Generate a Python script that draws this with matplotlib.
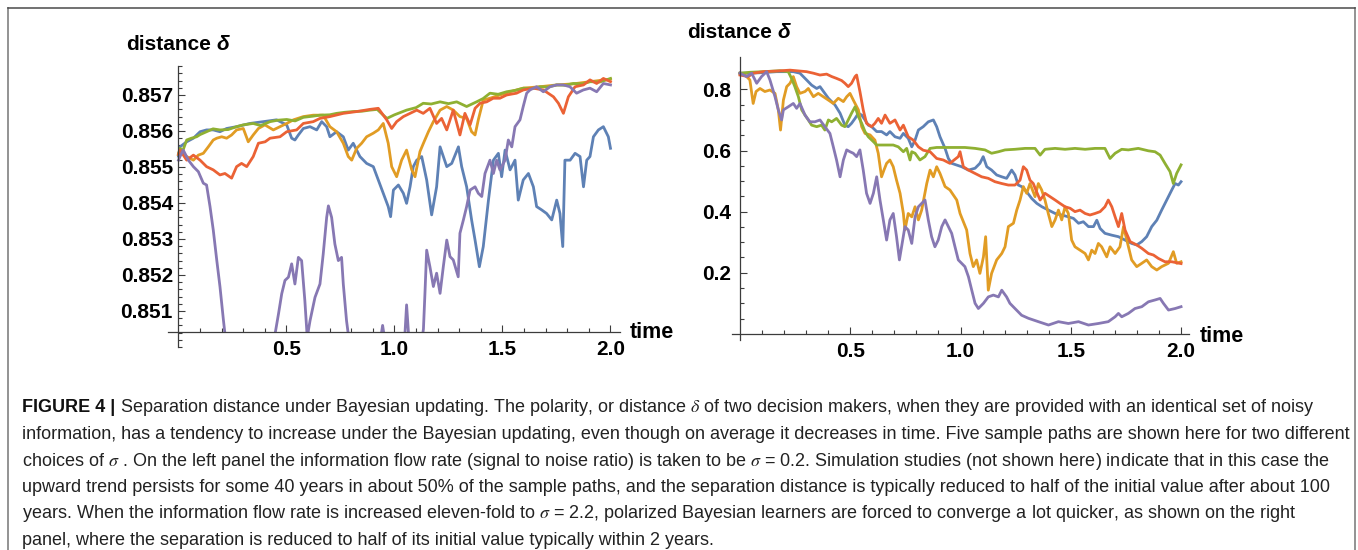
import matplotlib
matplotlib.use("Agg")
import matplotlib.pyplot as plt
import numpy as np
from matplotlib.lines import Line2D
from matplotlib.patches import Rectangle

plt.rcParams["font.family"] = ["Liberation Sans", "DejaVu Sans"]
plt.rcParams["mathtext.fontset"] = "stix"

W, H = 1358, 550

# Mathematica default plot colours, in drawing order
COLORS = ["#5E81B5", "#E19C24", "#8FB032", "#EB6235", "#8778B3"]

# ---- left panel, sigma = 0.2: (time, distance) ----
LEFT_BLUE = [
    (0.000, 0.85530), (0.007, 0.85556), (0.038, 0.85570), (0.069, 0.85580), (0.100, 0.85598),
    (0.130, 0.85603), (0.161, 0.85603), (0.192, 0.85598), (0.223, 0.85607), (0.269, 0.85612),
    (0.331, 0.85621), (0.393, 0.85626), (0.454, 0.85631), (0.501, 0.85617), (0.524, 0.85580),
    (0.539, 0.85575), (0.555, 0.85589), (0.578, 0.85607), (0.609, 0.85612), (0.640, 0.85603),
    (0.663, 0.85626), (0.686, 0.85612), (0.701, 0.85584), (0.732, 0.85598), (0.763, 0.85584),
    (0.786, 0.85547), (0.809, 0.85566), (0.840, 0.85529), (0.871, 0.85510), (0.902, 0.85501),
    (0.925, 0.85464), (0.948, 0.85427), (0.971, 0.85390), (0.982, 0.85362), (0.995, 0.85436),
    (1.018, 0.85450), (1.041, 0.85427), (1.056, 0.85399), (1.072, 0.85445), (1.087, 0.85501),
    (1.103, 0.85519), (1.126, 0.85529), (1.149, 0.85464), (1.172, 0.85367), (1.195, 0.85445),
    (1.211, 0.85556), (1.242, 0.85501), (1.265, 0.85510), (1.296, 0.85556), (1.311, 0.85501),
    (1.334, 0.85445), (1.357, 0.85353), (1.373, 0.85297), (1.393, 0.85223), (1.411, 0.85279),
    (1.435, 0.85408), (1.458, 0.85519), (1.481, 0.85538), (1.496, 0.85473), (1.512, 0.85547),
    (1.535, 0.85492), (1.558, 0.85519), (1.573, 0.85408), (1.596, 0.85464), (1.620, 0.85482),
    (1.643, 0.85445), (1.658, 0.85390), (1.681, 0.85381), (1.704, 0.85371), (1.728, 0.85353),
    (1.751, 0.85408), (1.766, 0.85371), (1.779, 0.85279), (1.789, 0.85519), (1.813, 0.85519),
    (1.836, 0.85538), (1.859, 0.85529), (1.875, 0.85445), (1.890, 0.85519), (1.905, 0.85529),
    (1.921, 0.85584), (1.944, 0.85603), (1.967, 0.85612), (1.990, 0.85584), (2.000, 0.85552),
]
LEFT_ORANGE = [
    (0.000, 0.85535), (0.007, 0.85547), (0.038, 0.85529), (0.069, 0.85519), (0.092, 0.85533),
    (0.115, 0.85538), (0.138, 0.85556), (0.161, 0.85575), (0.177, 0.85580), (0.200, 0.85584),
    (0.223, 0.85580), (0.246, 0.85589), (0.269, 0.85603), (0.300, 0.85607), (0.323, 0.85570),
    (0.346, 0.85589), (0.370, 0.85607), (0.400, 0.85617), (0.439, 0.85603), (0.470, 0.85612),
    (0.501, 0.85621), (0.532, 0.85631), (0.578, 0.85640), (0.624, 0.85644), (0.670, 0.85644),
    (0.701, 0.85612), (0.732, 0.85598), (0.763, 0.85566), (0.786, 0.85529), (0.802, 0.85519),
    (0.825, 0.85552), (0.848, 0.85566), (0.871, 0.85584), (0.902, 0.85594), (0.925, 0.85603),
    (0.948, 0.85621), (0.971, 0.85566), (0.987, 0.85501), (1.010, 0.85473), (1.033, 0.85519),
    (1.056, 0.85547), (1.080, 0.85492), (1.095, 0.85473), (1.118, 0.85543), (1.134, 0.85566),
    (1.157, 0.85598), (1.180, 0.85626), (1.211, 0.85658), (1.242, 0.85668), (1.272, 0.85658),
    (1.303, 0.85640), (1.334, 0.85635), (1.357, 0.85598), (1.373, 0.85589), (1.388, 0.85631),
    (1.411, 0.85686), (1.442, 0.85691), (1.488, 0.85700), (1.535, 0.85709), (1.596, 0.85719),
    (1.674, 0.85723), (1.751, 0.85728), (1.828, 0.85731), (1.905, 0.85737), (2.000, 0.85744),
]
LEFT_GREEN = [
    (0.000, 0.85535), (0.007, 0.85552), (0.020, 0.85545), (0.038, 0.85575), (0.060, 0.85580),
    (0.084, 0.85584), (0.100, 0.85590), (0.130, 0.85598), (0.160, 0.85606), (0.192, 0.85603),
    (0.230, 0.85604), (0.269, 0.85612), (0.300, 0.85617), (0.346, 0.85621), (0.380, 0.85615),
    (0.424, 0.85626), (0.460, 0.85630), (0.501, 0.85632), (0.540, 0.85628), (0.578, 0.85638),
    (0.620, 0.85641), (0.655, 0.85644), (0.700, 0.85645), (0.732, 0.85649), (0.770, 0.85652),
    (0.809, 0.85654), (0.850, 0.85655), (0.887, 0.85658), (0.920, 0.85660), (0.948, 0.85644),
    (0.965, 0.85635), (1.000, 0.85645), (1.056, 0.85658), (1.100, 0.85665), (1.133, 0.85677),
    (1.170, 0.85675), (1.211, 0.85681), (1.250, 0.85676), (1.288, 0.85681), (1.334, 0.85668),
    (1.380, 0.85681), (1.410, 0.85690), (1.442, 0.85705), (1.480, 0.85702), (1.519, 0.85709),
    (1.560, 0.85713), (1.597, 0.85719), (1.640, 0.85718), (1.674, 0.85723), (1.710, 0.85722),
    (1.751, 0.85728), (1.790, 0.85727), (1.828, 0.85732), (1.870, 0.85731), (1.905, 0.85737),
    (1.950, 0.85736), (2.000, 0.85746),
]
LEFT_RED = [
    (0.000, 0.85535), (0.007, 0.85547), (0.038, 0.85519), (0.069, 0.85533), (0.100, 0.85519),
    (0.130, 0.85501), (0.161, 0.85492), (0.192, 0.85478), (0.215, 0.85482), (0.246, 0.85469),
    (0.269, 0.85501), (0.292, 0.85510), (0.316, 0.85501), (0.346, 0.85529), (0.370, 0.85566),
    (0.401, 0.85570), (0.424, 0.85580), (0.470, 0.85584), (0.501, 0.85598), (0.547, 0.85603),
    (0.578, 0.85621), (0.624, 0.85626), (0.655, 0.85635), (0.701, 0.85640), (0.763, 0.85649),
    (0.825, 0.85654), (0.886, 0.85660), (0.925, 0.85663), (0.964, 0.85631), (0.987, 0.85607),
    (1.010, 0.85626), (1.041, 0.85640), (1.072, 0.85649), (1.103, 0.85658), (1.133, 0.85649),
    (1.164, 0.85663), (1.195, 0.85621), (1.218, 0.85635), (1.242, 0.85603), (1.272, 0.85658),
    (1.303, 0.85589), (1.326, 0.85649), (1.350, 0.85617), (1.373, 0.85663), (1.396, 0.85677),
    (1.427, 0.85681), (1.457, 0.85691), (1.488, 0.85691), (1.519, 0.85700), (1.565, 0.85705),
    (1.596, 0.85714), (1.642, 0.85719), (1.689, 0.85714), (1.736, 0.85695), (1.759, 0.85677),
    (1.782, 0.85649), (1.805, 0.85695), (1.836, 0.85723), (1.875, 0.85728), (1.905, 0.85742),
    (1.936, 0.85732), (1.967, 0.85746), (2.000, 0.85737),
]
LEFT_PURPLE = [
    (0.000, 0.85519), (0.007, 0.85529), (0.022, 0.85547), (0.046, 0.85519), (0.069, 0.85501),
    (0.092, 0.85487), (0.115, 0.85455), (0.130, 0.85450), (0.146, 0.85390), (0.161, 0.85325),
    (0.177, 0.85242), (0.192, 0.85168), (0.208, 0.85075), (0.220, 0.85010), (0.300, 0.84900),
    (0.380, 0.84920), (0.439, 0.85010), (0.447, 0.85036), (0.463, 0.85092), (0.478, 0.85148),
    (0.493, 0.85185), (0.509, 0.85194), (0.524, 0.85231), (0.539, 0.85175), (0.555, 0.85249),
    (0.570, 0.85240), (0.585, 0.85129), (0.596, 0.85027), (0.609, 0.85073), (0.632, 0.85138),
    (0.655, 0.85175), (0.670, 0.85258), (0.686, 0.85360), (0.694, 0.85392), (0.709, 0.85360),
    (0.724, 0.85286), (0.740, 0.85240), (0.755, 0.85249), (0.763, 0.85175), (0.778, 0.85073),
    (0.794, 0.84999), (0.870, 0.84960), (0.930, 0.85000), (0.945, 0.85060), (0.960, 0.85000),
    (1.045, 0.85000), (1.056, 0.85117), (1.068, 0.85010), (1.120, 0.84990), (1.134, 0.85050),
    (1.141, 0.85149), (1.149, 0.85269), (1.164, 0.85223), (1.180, 0.85168), (1.195, 0.85205),
    (1.211, 0.85149), (1.226, 0.85223), (1.242, 0.85297), (1.257, 0.85251), (1.272, 0.85242),
    (1.295, 0.85195), (1.303, 0.85316), (1.319, 0.85353), (1.334, 0.85390), (1.350, 0.85436),
    (1.373, 0.85445), (1.388, 0.85427), (1.404, 0.85418), (1.419, 0.85482), (1.442, 0.85519),
    (1.458, 0.85482), (1.473, 0.85519), (1.488, 0.85492), (1.512, 0.85519), (1.527, 0.85575),
    (1.543, 0.85556), (1.558, 0.85612), (1.581, 0.85631), (1.596, 0.85668), (1.612, 0.85705),
    (1.627, 0.85714), (1.658, 0.85723), (1.689, 0.85709), (1.720, 0.85723), (1.751, 0.85728),
    (1.782, 0.85728), (1.812, 0.85723), (1.843, 0.85705), (1.874, 0.85714), (1.905, 0.85719),
    (1.936, 0.85709), (1.967, 0.85732), (2.000, 0.85728),
]

# ---- right panel, sigma = 2.2 ----
RIGHT_BLUE = [
    (0.000, 0.853), (0.045, 0.853), (0.106, 0.855), (0.166, 0.858), (0.242, 0.858), (0.272, 0.853),
    (0.302, 0.831), (0.325, 0.814), (0.348, 0.803), (0.363, 0.809), (0.385, 0.787), (0.401, 0.771),
    (0.416, 0.760), (0.431, 0.749), (0.454, 0.722), (0.476, 0.683), (0.491, 0.678), (0.506, 0.689),
    (0.522, 0.705), (0.537, 0.722), (0.552, 0.716), (0.567, 0.700), (0.582, 0.683), (0.597, 0.678),
    (0.620, 0.662), (0.642, 0.662), (0.665, 0.651), (0.680, 0.662), (0.703, 0.645), (0.726, 0.640),
    (0.741, 0.656), (0.763, 0.640), (0.779, 0.612), (0.794, 0.634), (0.809, 0.667), (0.831, 0.678),
    (0.854, 0.694), (0.877, 0.700), (0.892, 0.678), (0.907, 0.645), (0.930, 0.607), (0.945, 0.574),
    (0.960, 0.558), (1.005, 0.547), (1.036, 0.536), (1.066, 0.542), (1.088, 0.558), (1.103, 0.580),
    (1.119, 0.547), (1.141, 0.536), (1.164, 0.520), (1.187, 0.514), (1.209, 0.509), (1.232, 0.536),
    (1.247, 0.520), (1.262, 0.487), (1.277, 0.482), (1.300, 0.465), (1.323, 0.443), (1.346, 0.427),
    (1.369, 0.416), (1.399, 0.405), (1.429, 0.394), (1.459, 0.389), (1.489, 0.383), (1.512, 0.378),
    (1.535, 0.362), (1.557, 0.367), (1.580, 0.351), (1.603, 0.351), (1.618, 0.372), (1.633, 0.345),
    (1.655, 0.329), (1.686, 0.323), (1.716, 0.318), (1.746, 0.307), (1.776, 0.296), (1.799, 0.291),
    (1.822, 0.302), (1.844, 0.318), (1.867, 0.351), (1.890, 0.372), (1.912, 0.405), (1.935, 0.438),
    (1.958, 0.471), (1.973, 0.492), (1.988, 0.487), (2.000, 0.498),
]
RIGHT_ORANGE = [
    (0.000, 0.853), (0.023, 0.847), (0.045, 0.831), (0.060, 0.754), (0.073, 0.793), (0.091, 0.803),
    (0.113, 0.793), (0.136, 0.798), (0.159, 0.787), (0.174, 0.733), (0.184, 0.667), (0.197, 0.765),
    (0.212, 0.809), (0.227, 0.820), (0.242, 0.842), (0.257, 0.809), (0.272, 0.787), (0.295, 0.793),
    (0.310, 0.803), (0.333, 0.776), (0.355, 0.787), (0.378, 0.776), (0.401, 0.765), (0.423, 0.754),
    (0.446, 0.771), (0.469, 0.760), (0.484, 0.776), (0.499, 0.787), (0.514, 0.765), (0.537, 0.733),
    (0.552, 0.678), (0.567, 0.656), (0.590, 0.651), (0.612, 0.634), (0.627, 0.591), (0.642, 0.514),
    (0.653, 0.536), (0.665, 0.558), (0.680, 0.569), (0.695, 0.547), (0.710, 0.503), (0.726, 0.460),
    (0.741, 0.394), (0.748, 0.340), (0.763, 0.394), (0.779, 0.383), (0.794, 0.416), (0.809, 0.373),
    (0.824, 0.405), (0.847, 0.492), (0.862, 0.536), (0.877, 0.514), (0.892, 0.547), (0.907, 0.525),
    (0.930, 0.482), (0.952, 0.471), (0.983, 0.438), (0.998, 0.394), (1.028, 0.340), (1.043, 0.263),
    (1.058, 0.220), (1.073, 0.242), (1.088, 0.198), (1.104, 0.252), (1.114, 0.318), (1.126, 0.143),
    (1.141, 0.198), (1.164, 0.242), (1.187, 0.263), (1.202, 0.285), (1.217, 0.351), (1.240, 0.362),
    (1.255, 0.405), (1.270, 0.438), (1.285, 0.482), (1.300, 0.460), (1.315, 0.492), (1.338, 0.449),
    (1.353, 0.492), (1.368, 0.471), (1.383, 0.438), (1.398, 0.394), (1.414, 0.351), (1.429, 0.373),
    (1.444, 0.405), (1.459, 0.373), (1.474, 0.416), (1.489, 0.394), (1.504, 0.307), (1.519, 0.285),
    (1.542, 0.274), (1.565, 0.263), (1.580, 0.242), (1.595, 0.274), (1.610, 0.263), (1.625, 0.296),
    (1.640, 0.285), (1.663, 0.252), (1.678, 0.285), (1.701, 0.263), (1.723, 0.285), (1.739, 0.351),
    (1.754, 0.307), (1.776, 0.242), (1.799, 0.220), (1.822, 0.231), (1.844, 0.242), (1.867, 0.220),
    (1.890, 0.209), (1.912, 0.220), (1.943, 0.231), (1.965, 0.269), (1.980, 0.231), (2.000, 0.236),
]
RIGHT_GREEN = [
    (0.000, 0.853), (0.045, 0.856), (0.106, 0.858), (0.181, 0.861), (0.219, 0.858), (0.234, 0.836),
    (0.249, 0.809), (0.265, 0.776), (0.280, 0.733), (0.295, 0.716), (0.310, 0.700), (0.325, 0.683),
    (0.348, 0.678), (0.370, 0.683), (0.385, 0.667), (0.401, 0.700), (0.416, 0.694), (0.438, 0.705),
    (0.461, 0.683), (0.476, 0.678), (0.491, 0.700), (0.506, 0.722), (0.522, 0.743), (0.537, 0.711),
    (0.552, 0.689), (0.567, 0.662), (0.582, 0.645), (0.605, 0.629), (0.620, 0.618), (0.642, 0.618),
    (0.665, 0.618), (0.695, 0.618), (0.718, 0.612), (0.741, 0.596), (0.756, 0.607), (0.771, 0.569),
    (0.779, 0.596), (0.794, 0.591), (0.816, 0.569), (0.839, 0.580), (0.862, 0.607), (0.892, 0.610),
    (0.937, 0.610), (1.020, 0.610), (1.066, 0.607), (1.111, 0.602), (1.141, 0.591), (1.172, 0.596),
    (1.202, 0.602), (1.247, 0.604), (1.293, 0.607), (1.338, 0.607), (1.361, 0.585), (1.383, 0.604),
    (1.429, 0.607), (1.474, 0.604), (1.519, 0.607), (1.565, 0.604), (1.610, 0.607), (1.655, 0.607),
    (1.678, 0.574), (1.701, 0.591), (1.731, 0.604), (1.761, 0.602), (1.806, 0.607), (1.852, 0.599),
    (1.882, 0.596), (1.905, 0.585), (1.927, 0.558), (1.950, 0.531), (1.965, 0.492), (1.980, 0.525),
    (2.000, 0.553),
]
RIGHT_RED = [
    (0.000, 0.847), (0.038, 0.842), (0.060, 0.853), (0.106, 0.858), (0.166, 0.860), (0.227, 0.863),
    (0.272, 0.860), (0.302, 0.858), (0.333, 0.853), (0.363, 0.847), (0.393, 0.850), (0.416, 0.842),
    (0.438, 0.836), (0.461, 0.829), (0.476, 0.820), (0.491, 0.809), (0.506, 0.820), (0.522, 0.842),
    (0.529, 0.847), (0.544, 0.793), (0.559, 0.733), (0.574, 0.689), (0.597, 0.678), (0.612, 0.689),
    (0.627, 0.705), (0.642, 0.689), (0.658, 0.716), (0.680, 0.689), (0.703, 0.700), (0.726, 0.667),
    (0.741, 0.683), (0.763, 0.645), (0.786, 0.634), (0.809, 0.612), (0.831, 0.601), (0.862, 0.596),
    (0.892, 0.574), (0.922, 0.569), (0.952, 0.558), (0.990, 0.580), (0.998, 0.596), (1.013, 0.547),
    (1.036, 0.536), (1.066, 0.525), (1.096, 0.514), (1.126, 0.509), (1.156, 0.498), (1.187, 0.492),
    (1.217, 0.487), (1.247, 0.487), (1.270, 0.503), (1.285, 0.547), (1.300, 0.536), (1.315, 0.503),
    (1.330, 0.492), (1.345, 0.465), (1.361, 0.438), (1.383, 0.460), (1.406, 0.449), (1.429, 0.438),
    (1.451, 0.427), (1.474, 0.416), (1.497, 0.411), (1.519, 0.400), (1.542, 0.405), (1.565, 0.394),
    (1.587, 0.389), (1.610, 0.394), (1.633, 0.400), (1.655, 0.416), (1.670, 0.438), (1.686, 0.416),
    (1.701, 0.383), (1.716, 0.351), (1.731, 0.394), (1.746, 0.340), (1.769, 0.302), (1.799, 0.291),
    (1.822, 0.280), (1.852, 0.263), (1.875, 0.258), (1.897, 0.247), (1.927, 0.236), (1.958, 0.236),
    (2.000, 0.230),
]
RIGHT_PURPLE = [
    (0.000, 0.853), (0.030, 0.842), (0.053, 0.853), (0.076, 0.820), (0.098, 0.842), (0.121, 0.858),
    (0.136, 0.831), (0.159, 0.776), (0.174, 0.733), (0.189, 0.700), (0.197, 0.733), (0.219, 0.743),
    (0.242, 0.754), (0.257, 0.738), (0.272, 0.754), (0.295, 0.716), (0.317, 0.694), (0.340, 0.694),
    (0.363, 0.700), (0.385, 0.678), (0.408, 0.656), (0.423, 0.613), (0.438, 0.569), (0.454, 0.514),
    (0.469, 0.569), (0.484, 0.602), (0.499, 0.596), (0.514, 0.591), (0.529, 0.580), (0.544, 0.602),
    (0.559, 0.536), (0.574, 0.460), (0.590, 0.427), (0.605, 0.460), (0.620, 0.514), (0.635, 0.438),
    (0.650, 0.373), (0.665, 0.307), (0.680, 0.373), (0.695, 0.394), (0.710, 0.318), (0.723, 0.242),
    (0.738, 0.307), (0.748, 0.351), (0.763, 0.340), (0.779, 0.296), (0.794, 0.383), (0.809, 0.416),
    (0.824, 0.427), (0.839, 0.438), (0.854, 0.373), (0.869, 0.318), (0.884, 0.285), (0.899, 0.307),
    (0.915, 0.351), (0.930, 0.373), (0.945, 0.351), (0.960, 0.329), (0.975, 0.285), (0.990, 0.242),
    (1.020, 0.220), (1.036, 0.187), (1.051, 0.143), (1.066, 0.100), (1.081, 0.083), (1.104, 0.100),
    (1.126, 0.121), (1.149, 0.127), (1.172, 0.121), (1.187, 0.143), (1.209, 0.121), (1.224, 0.100),
    (1.247, 0.083), (1.277, 0.061), (1.308, 0.051), (1.353, 0.040), (1.399, 0.029), (1.444, 0.040),
    (1.489, 0.034), (1.535, 0.040), (1.580, 0.029), (1.625, 0.034), (1.670, 0.040), (1.701, 0.056),
    (1.716, 0.067), (1.731, 0.056), (1.761, 0.067), (1.791, 0.083), (1.822, 0.089), (1.852, 0.105),
    (1.882, 0.111), (1.905, 0.116), (1.920, 0.100), (1.943, 0.078), (1.973, 0.083), (2.000, 0.089),
]

LEFT_SERIES = [LEFT_BLUE, LEFT_ORANGE, LEFT_GREEN, LEFT_RED, LEFT_PURPLE]
RIGHT_SERIES = [RIGHT_BLUE, RIGHT_ORANGE, RIGHT_GREEN, RIGHT_RED, RIGHT_PURPLE]

X_MAJOR = [0.5, 1.0, 1.5, 2.0]
X_LABELS = ["0.5", "1.0", "1.5", "2.0"]
LEFT_Y_MAJOR = [0.851, 0.852, 0.853, 0.854, 0.855, 0.856, 0.857]
LEFT_Y_LABELS = ["0.851", "0.852", "0.853", "0.854", "0.855", "0.856", "0.857"]
RIGHT_Y_MAJOR = [0.2, 0.4, 0.6, 0.8]
RIGHT_Y_LABELS = ["0.2", "0.4", "0.6", "0.8"]

CAPTION_HEAD = "FIGURE 4 |"
CAPTION_LINES = [
    "Separation distance under Bayesian updating. The polarity, or distance $\\delta$ of two "
    "decision makers, when they are provided with an identical set of noisy",
    "information, has a tendency to increase under the Bayesian updating, even though on average "
    "it decreases in time. Five sample paths are shown here for two different",
    "choices of $\\sigma$ . On the left panel the information flow rate (signal to noise ratio) is "
    "taken to be $\\sigma$ = 0.2. Simulation studies (not shown here) indicate that in this case the",
    "upward trend persists for some 40 years in about 50% of the sample paths, and the separation "
    "distance is typically reduced to half of the initial value after about 100",
    "years. When the information flow rate is increased eleven-fold to $\\sigma$ = 2.2, polarized "
    "Bayesian learners are forced to converge a lot quicker, as shown on the right",
    "panel, where the separation is reduced to half of its initial value typically within 2 years.",
]

AXIS_COLOR = "#3c3c3c"


def px(x, y):
    return x / W, 1 - y / H


def style_axes(ax, x0_value, yticks, ylabels, ymin, ymax, ystep, ypad, xpad):
    ax.set_facecolor("none")
    for side in ["top", "right"]:
        ax.spines[side].set_visible(False)
    ax.spines["left"].set_position(("data", 0))
    ax.spines["bottom"].set_position(("data", x0_value))
    for side in ["left", "bottom"]:
        ax.spines[side].set_color(AXIS_COLOR)
        ax.spines[side].set_linewidth(0.9)

    ax.set_xticks(X_MAJOR, X_LABELS, fontweight="bold")
    ax.set_xticks([v / 10 for v in range(1, 20) if v % 5], minor=True)
    ax.set_yticks(yticks, ylabels, fontweight="bold")
    n = int(round((ymax - ymin) / ystep))
    minor = [ymin + i * ystep for i in range(n + 1)]
    minor = [m for m in minor if min(abs(m - t) for t in yticks) > ystep / 3]
    ax.set_yticks(minor, minor=True)

    ax.tick_params(which="both", direction="in", color=AXIS_COLOR, width=0.8, labelsize=15,
                   labelcolor="black")
    ax.tick_params(which="major", length=5)
    ax.tick_params(which="minor", length=2.8)
    ax.tick_params(axis="y", pad=ypad)
    ax.tick_params(axis="x", pad=xpad)


fig = plt.figure(figsize=(W / 100, H / 100), dpi=100)

# left panel
axL = fig.add_axes([167.9 / W, 1 - 347 / H, 452.1 / W, 280.8 / H])
axL.set_xlim(-0.049, 2.044)
axL.set_ylim(0.8500, 0.8578)
left_floor = 0.85042
clip = Rectangle((-0.049, left_floor), 2.1, 0.01, transform=axL.transData)
for series, color in zip(LEFT_SERIES, COLORS):
    t, v = np.array(series).T
    (line,) = axL.plot(t, v, color=color, lw=2.0, solid_joinstyle="round")
    line.set_clip_path(clip)
style_axes(axL, left_floor, LEFT_Y_MAJOR, LEFT_Y_LABELS, 0.8500, 0.8578, 0.0002, 4, 6)

# right panel
axR = fig.add_axes([732 / W, 1 - 340 / H, 457 / W, 283 / H])
axR.set_xlim(-0.036, 2.036)
axR.set_ylim(-0.02, 0.906)
for series, color in zip(RIGHT_SERIES, COLORS):
    t, v = np.array(series).T
    axR.plot(t, v, color=color, lw=2.0, solid_joinstyle="round")
style_axes(axR, 0.0, RIGHT_Y_MAJOR, RIGHT_Y_LABELS, 0.05, 0.85, 0.05, 6, 6)

# axis labels (Mathematica style, at the axis ends)
for x, y, dx in [(126, 45, 90), (687, 33, 90)]:
    fig.text(*px(x, y), "distance", fontsize=15, fontweight="bold", va="center", ha="left")
    fig.text(*px(x + dx, y), "δ", fontsize=15, fontweight="bold", fontstyle="italic",
             va="center", ha="left")
fig.text(*px(630, 333), "time", fontsize=15.5, fontweight="bold", va="center", ha="left")
fig.text(*px(1200, 336), "time", fontsize=15.5, fontweight="bold", va="center", ha="left")

# frame around the figure
frame_kw = dict(transform=fig.transFigure, color="#8a8a8a", lw=1.3)
fig.add_artist(Line2D([7.5 / W, 7.5 / W], [0, 1 - 8 / H], **frame_kw))
fig.add_artist(Line2D([1355 / W, 1355 / W], [0, 1 - 8 / H], **frame_kw))
fig.add_artist(Line2D([7.5 / W, 1355 / W], [1 - 8 / H, 1 - 8 / H],
                      transform=fig.transFigure, color="#4a4a4a", lw=1.1))

# caption
cap_size = 13.0
cap_color = "#222222"
line_y = [408, 434.5, 461, 487.3, 513.8, 540.2]
head = fig.text(*px(22, line_y[0]), CAPTION_HEAD, fontsize=cap_size, fontweight="bold",
                color="#111111", va="center", ha="left")
fig.canvas.draw()
bb = head.get_window_extent(fig.canvas.get_renderer())
fig.text((bb.x1 + 5) / W, 1 - line_y[0] / H, CAPTION_LINES[0], fontsize=cap_size,
         color=cap_color, va="center", ha="left")
for text, y in zip(CAPTION_LINES[1:], line_y[1:]):
    fig.text(*px(22, y), text, fontsize=cap_size, color=cap_color, va="center", ha="left")

fig.savefig("out.png", dpi=100)
